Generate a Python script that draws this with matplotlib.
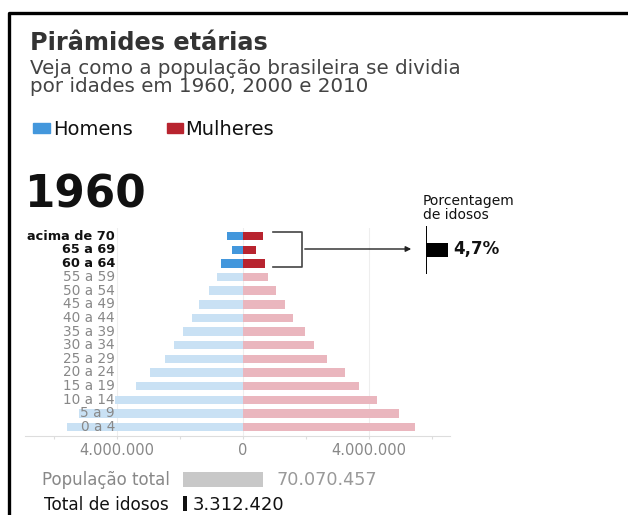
import matplotlib
matplotlib.use("Agg")
import matplotlib.pyplot as plt
import numpy as np

plt.rcParams['font.family'] = ['DejaVu Sans']

# Faixas etárias, de baixo para cima
faixas = ['0 a 4', '5 a 9', '10 a 14', '15 a 19', '20 a 24', '25 a 29', '30 a 34',
          '35 a 39', '40 a 44', '45 a 49', '50 a 54', '55 a 59', '60 a 64',
          '65 a 69', 'acima de 70']

# População por faixa em 1960
homens = [5600000, 5200000, 4050000, 3400000, 2960000, 2490000, 2200000,
          1920000, 1610000, 1390000, 1070000, 820000, 690000, 350000, 500000]
mulheres = [5470000, 4940000, 4240000, 3680000, 3230000, 2660000, 2240000,
            1970000, 1580000, 1320000, 1060000, 790000, 690000, 410000, 630000]

ano = '1960'
pop_total = 70070457
total_idosos = 3312420
pct_idosos = 4.7

azul = '#4397dc'
azul_claro = '#c9e1f4'
vermelho = '#b8242f'
vermelho_claro = '#eab6be'

W, H = 628, 515
fig = plt.figure(figsize=(W / 100, H / 100), dpi=100)


def px_axes(x0, y0, x1, y1):
    # caixa em pixels (origem no topo) -> fração da figura
    return [x0 / W, 1 - y1 / H, (x1 - x0) / W, (y1 - y0) / H]


def br(v):
    return f'{v:,}'.replace(',', '.')


# pirâmide
xmin, xmax = -6.92e6, 6.57e6
ax = fig.add_axes(px_axes(25, 228, 450, 436))
ax.patch.set_visible(False)
y = np.arange(len(faixas))
idoso = np.array([f in ('60 a 64', '65 a 69', 'acima de 70') for f in faixas])
cor_h = [azul if i else azul_claro for i in idoso]
cor_m = [vermelho if i else vermelho_claro for i in idoso]
ax.barh(y, -np.array(homens), height=0.62, color=cor_h, zorder=2)
ax.barh(y, mulheres, height=0.62, color=cor_m, zorder=2)
ax.set_xlim(xmin, xmax)
ax.set_ylim(-0.66, 14.6)
for gx in (-4e6, 0, 4e6):
    ax.axvline(gx, color='#eeeeee', lw=0.8, zorder=1)
ticks = np.arange(-6e6, 6.1e6, 2e6)
ax.set_xticks(ticks)
ax.set_xticklabels([br(abs(int(v))) if v in (-4e6, 0, 4e6) else '' for v in ticks])
ax.tick_params(axis='x', length=2, color='#dddddd', labelsize=10.5, labelcolor='#888888', pad=3)
ax.set_yticks([])
for s in ('top', 'right', 'left'):
    ax.spines[s].set_visible(False)
ax.spines['bottom'].set_color('#dddddd')

# rótulos das faixas
lbl_x = xmin + 90 / 425 * (xmax - xmin)
for yi, f, i in zip(y, faixas, idoso):
    ax.text(lbl_x, yi, f, ha='right', va='center',
            fontsize=9.3 if i else 9.8,
            color='#111111' if i else '#888888', fontweight='bold' if i else 'normal',
            zorder=3)

# camada de anotações em pixels
ov = fig.add_axes([0, 0, 1, 1], zorder=10)
ov.set_xlim(0, W)
ov.set_ylim(H, 0)
ov.axis('off')

ov.plot([9, 9, W], [H, 13, 13], color='black', lw=2.4, solid_capstyle='butt')

ov.text(30, 50, 'Pirâmides etárias', fontsize=17.3, fontweight='bold', color='#333333', va='baseline')
ov.text(30, 74, 'Veja como a população brasileira se dividia', fontsize=14.3, color='#444444', va='baseline')
ov.text(30, 92, 'por idades em 1960, 2000 e 2010', fontsize=14.3, color='#444444', va='baseline')

ov.add_patch(plt.Rectangle((33, 123), 17, 10, color=azul))
ov.text(53, 135, 'Homens', fontsize=14, color='#111111', va='baseline')
ov.add_patch(plt.Rectangle((167, 123), 16, 10, color=vermelho))
ov.text(185, 135, 'Mulheres', fontsize=14, color='#111111', va='baseline')

ov.text(24, 207, ano, fontsize=31.5, fontweight='bold', color='#111111', va='baseline')

# chave dos idosos e seta
ov.plot([273, 302, 302, 273], [232, 232, 267, 267], color='#444444', lw=1.2)
ov.annotate('', xy=(414, 249), xytext=(302, 249),
            arrowprops=dict(arrowstyle='-|>', color='#222222', lw=1, mutation_scale=8))
ov.text(423, 205, 'Porcentagem', fontsize=10, color='#111111', va='baseline')
ov.text(423, 219, 'de idosos', fontsize=10, color='#111111', va='baseline')

# barra da porcentagem de idosos
axp = fig.add_axes(px_axes(426, 226, 426 + 22 / pct_idosos * 10, 274))
axp.barh([0], [pct_idosos], height=0.55, color='black')
axp.set_xlim(0, 10)
axp.set_ylim(-1, 1)
axp.axis('off')
axp.axvline(0, color='black', lw=1.4)
ov.text(453, 249, f'{pct_idosos:.1f}%'.replace('.', ','), fontsize=12, fontweight='bold',
        color='#111111', va='center')

# totais
axt = fig.add_axes(px_axes(183, 468, 183 + 80 * 75 / 70.07, 515))
axt.barh([1, 0], [pop_total, total_idosos], height=0.62, color=['#c8c8c8', '#111111'])
axt.set_xlim(0, 75e6)
axt.set_ylim(-0.5, 1.5)
axt.axis('off')
ov.text(42, 485, 'População total', fontsize=12, color='#888888', va='baseline')
ov.text(277, 485, br(pop_total), fontsize=12.7, color='#999999', va='baseline')
ov.text(44, 510, 'Total de idosos', fontsize=12.2, color='#111111', va='baseline')
ov.text(193, 510, br(total_idosos), fontsize=13, color='#111111', va='baseline')

fig.savefig('out.png', dpi=100)
